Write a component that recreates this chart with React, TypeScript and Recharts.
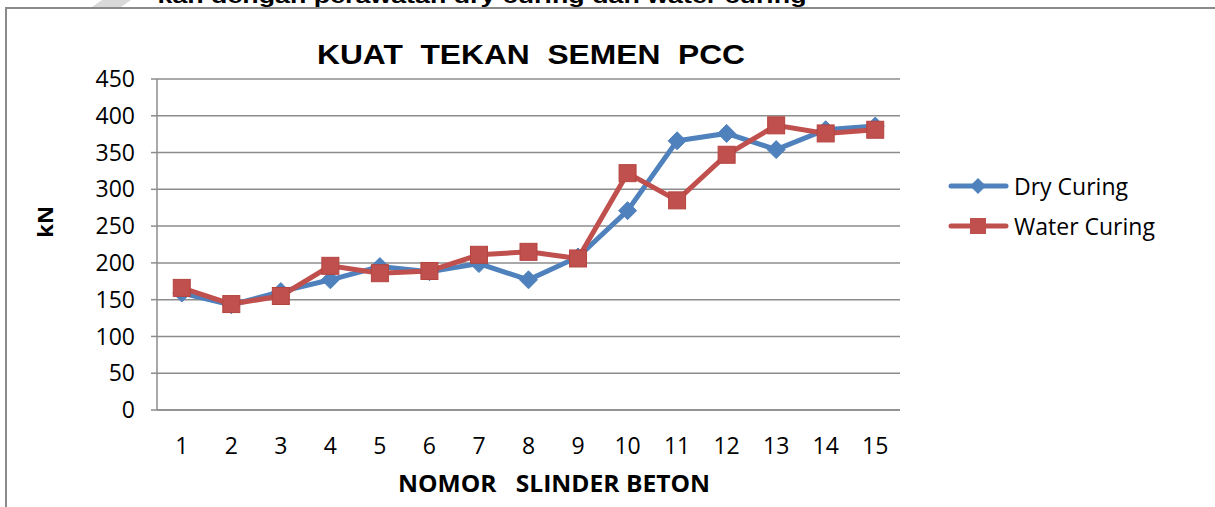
import React from "react";
import {
  CartesianGrid,
  Legend,
  Line,
  LineChart,
  XAxis,
  YAxis,
} from "recharts";

const sampleNumbers = [1, 2, 3, 4, 5, 6, 7, 8, 9, 10, 11, 12, 13, 14, 15];
const dryCuring = [159, 143, 161, 177, 195, 188, 199, 177, 208, 271, 366, 376, 354, 381, 386];
const waterCuring = [166, 144, 155, 196, 186, 189, 211, 215, 206, 322, 285, 347, 387, 376, 381];
const yTicks = [0, 50, 100, 150, 200, 250, 300, 350, 400, 450];

const BLUE = "#4F81BD";
const RED = "#C0504D";
const GRID = "#8c8c8c";
const FONT = "'Open Sans', sans-serif";

const data = sampleNumbers.map((no, i) => ({
  no,
  dry: dryCuring[i],
  water: waterCuring[i],
}));

// tick marks sit between categories, like the Excel original
const boundaryTicks = [...sampleNumbers.map((n) => n - 0.5), sampleNumbers[sampleNumbers.length - 1] + 0.5];

function DiamondDot(props: any) {
  const { cx, cy, index } = props;
  if (cx == null || cy == null) return null;
  const r = 9;
  return (
    <path
      key={`d-${index}`}
      d={`M${cx},${cy - r}L${cx + r},${cy}L${cx},${cy + r}L${cx - r},${cy}Z`}
      fill={BLUE}
      stroke={BLUE}
      strokeWidth={1}
    />
  );
}

function SquareDot(props: any) {
  const { cx, cy, index } = props;
  if (cx == null || cy == null) return null;
  const s = 17;
  return (
    <rect
      key={`s-${index}`}
      x={cx - s / 2}
      y={cy - s / 2}
      width={s}
      height={s}
      fill={RED}
      stroke="#b5443f"
      strokeWidth={1}
    />
  );
}

function LegendContent() {
  const rows = [
    { label: "Dry Curing", color: BLUE, shape: "diamond" },
    { label: "Water Curing", color: RED, shape: "square" },
  ];
  return (
    <div style={{ fontFamily: FONT, fontSize: 23, color: "#000" }}>
      {rows.map((r) => (
        <div key={r.label} style={{ display: "flex", alignItems: "center", height: 40 }}>
          <svg width={62} height={24} style={{ marginRight: 4 }}>
            <line x1={3} y1={12} x2={58} y2={12} stroke={r.color} strokeWidth={5} strokeLinecap="round" />
            {r.shape === "diamond" ? (
              <path d="M30,4L38,12L30,20L22,12Z" fill={r.color} />
            ) : (
              <rect x={22} y={4} width={16} height={16} fill={r.color} />
            )}
          </svg>
          <span>{r.label}</span>
        </div>
      ))}
    </div>
  );
}

export default function App() {
  return (
    <div
      style={{
        position: "absolute",
        left: 0,
        top: 0,
        width: 1215,
        height: 507,
        overflow: "hidden",
        background: "#fff",
      }}
    >
      <div
        style={{
          position: "absolute",
          left: 5,
          top: 7,
          width: 1400,
          height: 700,
          border: "2px solid #8a8a8a",
        }}
      />
      <svg width={1215} height={507} style={{ position: "absolute", left: 0, top: 0 }}>
        <polygon points="92,7 121,7 131,0 102,0" fill="#d9d9d9" />
        <text
          x={482}
          y={3}
          textAnchor="middle"
          fontFamily="'Liberation Sans', Arial, sans-serif"
          fontWeight="bold"
          fontSize={21}
          textLength={649}
          lengthAdjust="spacingAndGlyphs"
        >
          kan dengan perawatan dry curing dan water curing
        </text>
        <text
          x={531}
          y={64}
          textAnchor="middle"
          fontFamily="'Liberation Sans', Arial, sans-serif"
          fontWeight="bold"
          fontSize={28}
          textLength={428}
          lengthAdjust="spacingAndGlyphs"
          style={{ whiteSpace: "pre" }}
        >
          {"KUAT  TEKAN  SEMEN  PCC"}
        </text>
        <text
          x={554}
          y={492}
          textAnchor="middle"
          fontFamily={FONT}
          fontWeight="bold"
          fontSize={24}
          textLength={312}
          lengthAdjust="spacingAndGlyphs"
          style={{ whiteSpace: "pre" }}
        >
          {"NOMOR   SLINDER BETON"}
        </text>
        <text
          x={0}
          y={0}
          transform="translate(53,222) rotate(-90)"
          textAnchor="middle"
          fontFamily={FONT}
          fontWeight="bold"
          fontSize={22}
        >
          kN
        </text>
      </svg>
      <div style={{ position: "absolute", left: 0, top: 0 }}>
        <LineChart
          width={1215}
          height={507}
          data={data}
          margin={{ top: 79, right: 55, left: 0, bottom: 67 }}
        >
          <CartesianGrid horizontal vertical={false} stroke={GRID} strokeWidth={1.5} />
          <XAxis
            xAxisId="ticks"
            dataKey="no"
            type="number"
            domain={[0.5, 15.5]}
            ticks={boundaryTicks}
            tickFormatter={() => ""}
            height={0}
            tickSize={6}
            axisLine={false}
            tickLine={{ stroke: GRID, strokeWidth: 1.5 }}
            allowDataOverflow
          />
          <XAxis
            xAxisId="labels"
            dataKey="no"
            type="number"
            domain={[0.5, 15.5]}
            ticks={sampleNumbers}
            height={30}
            tickSize={6}
            tickMargin={22}
            tickLine={false}
            axisLine={{ stroke: GRID, strokeWidth: 1.5 }}
            tick={{ fill: "#000", fontSize: 23, fontFamily: FONT }}
            allowDataOverflow
          />
          <YAxis
            domain={[0, 450]}
            ticks={yTicks}
            width={157}
            tickSize={6}
            tickMargin={16}
            axisLine={{ stroke: GRID, strokeWidth: 1.5 }}
            tickLine={{ stroke: GRID, strokeWidth: 1.5 }}
            tick={{ fill: "#000", fontSize: 23, fontFamily: FONT }}
          />
          <Legend
            layout="vertical"
            align="right"
            verticalAlign="top"
            content={<LegendContent />}
            wrapperStyle={{ left: 948, top: 166, width: 260 }}
          />
          <Line
            xAxisId="labels"
            type="linear"
            dataKey="dry"
            name="Dry Curing"
            stroke={BLUE}
            strokeWidth={5}
            dot={<DiamondDot />}
            activeDot={false}
            isAnimationActive={false}
          />
          <Line
            xAxisId="labels"
            type="linear"
            dataKey="water"
            name="Water Curing"
            stroke={RED}
            strokeWidth={5}
            dot={<SquareDot />}
            activeDot={false}
            isAnimationActive={false}
          />
        </LineChart>
      </div>
    </div>
  );
}
